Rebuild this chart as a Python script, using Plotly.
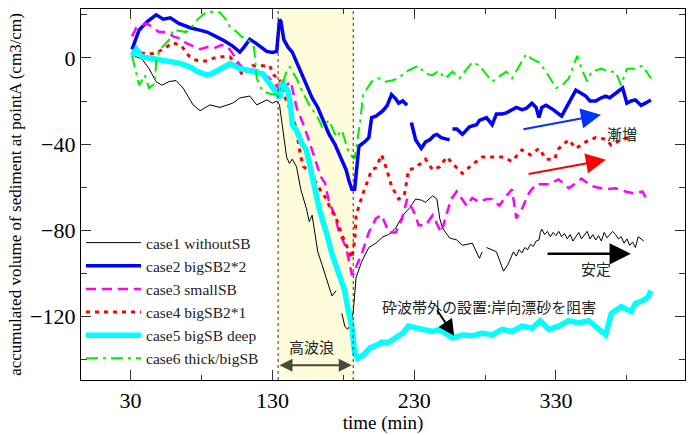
import plotly.graph_objects as go

# ---------------- data ----------------
t_case1 = [31,34,38,43,48,52,57,62,67,74,79,86,93,102,107,114,119,126,130,133,135,137,140,142,144,147,150,154,156,158,162,165,170,172,175,None,
           179,181,183,185,187,189,193,198,203,208,212,217,222,227,231,235,238,243,246,248,250,255,260,264,271,276,278,None,
           281,288,293,296,300,302,304,306,308,310,312,314,316,318,319,320,322,324,326,328,330,332,334,336,338,340,342,344,346,348,350,
           352,354,356,358,360,362,364,366,368,370,372,374,376,378,380,382,384,386,388,390,392]
v_case1 = [1.8,0.5,-0.5,-5,-11,-12.7,-11,-10.5,-14,-21.8,-24.5,-21.8,-23,-21,-18.6,-17.7,-21.8,-19.5,-21,-20,-21.8,-31,-46,-49,-47,-50.5,-61,-70,-76,-73,-90,-96,-106,-110.5,-108,None,
           -118.6,-124.5,-126,-124,-118,-102,-94.5,-88,-86,-83,-82,-79,-73,-69.5,-65.5,-66,-67,-64,-65.5,-74.5,-79,-83.6,-84.5,-87,-86,-93,-90,None,
           -88,-90,-99,-96,-90,-92,-89,-90.5,-88,-89,-86.5,-87.5,-85,-84.5,-81,-79.5,-82,-80.5,-83,-81,-82.5,-80.5,-83,-81.5,-84,-82,-85,-83,-81,-84,-82.5,
           -80.5,-84,-82,-84.5,-82.5,-85,-81,-83.5,-82,-80.5,-82,-84,-83,-86,-84,-87,-85.5,-88,-83,-84,-85]

t_case2 = [31,36,42,48,53,58,64,72,78,84,90,96,102,107,110,114,118,121,126,130,133,135,136,138,141,144,147,151,155,158,162,165,168,170,174,177,180,182,184,186,188,189,191,195,198,200,203,208,211,214,217,219,222,225,None,
           228,231,235,238,241,244,246,249,253,255,None,257,260,264,269,274,276,281,285,288,292,295,299,302,306,309,313,316,318,320,323,328,334,338,341,344,348,351,354,358,362,365,368,371,374,377,380,383,386,390,393,397]
v_case2 = [4,13,17,20,18,18.6,16,14,13,12,10,8,5.5,2.7,5,8.6,7,5.5,3,2.5,3,17.7,17,8.6,5,2.7,-2,-8,-14,-18.6,-23,-27.7,-32,-35.5,-40,-44.5,-48,-52,-57,-61,-61,-55,-41,-39,-37,-27.7,-27,-24.5,-22,-17,-19,-21,-20,-22,None,
           -30,-38,-42,-39,-38,-36,-35.5,-37,-37.7,-38,None,-33,-33,-35.5,-32,-31,-29,-27.7,-31,-26,-26,-25.5,-24,-23,-24,-23.5,-21,-23,-27.7,-23,-22,-24,-27,-22,-18,-15,-16.5,-17.7,-20,-20,-18.5,-17.7,-18.5,-17,-16,-14,-21,-20,-19.5,-22,-21,-19.5]

t_case3 = [31,34,38,41,45,50,55,60,65,69,74,79,84,89,94,98,102,105,108,112,116,121,125,128,133,135,137,140,143,147,150,155,158,161,164,167,170,174,177,182,184,186,188,189,193,198,203,207,210,212,217,221,225,231,233,238,243,249,252,256,260,264,267,271,276,281,285,290,295,299,302,306,311,316,325,332,339,348,355,365,372,379,386,391,395]
v_case3 = [10,14,15,16,14.5,12,12,10,9,7,5.5,4,5,4.5,6,5.5,2,-1.4,-4,-6.4,-5.5,-6,-8,-9.5,-13,-15,-17,-12.7,-11,-23,-27.7,-36.8,-42.7,-49,-55,-58,-67,-73,-81,-88,-94.5,-100.5,-100,-97,-91,-81,-74.5,-73,-77.7,-81,-81,-75.5,-65.5,-73,-77.7,-77.7,-73,-81,-74.5,-65.5,-62,-65.5,-68.6,-65,-67,-65.5,-65.5,-68.6,-64,-61,-74.5,-70,-62.7,-58.6,-58.6,-56.4,-60.5,-56,-59.5,-61,-60.5,-62,-63,-62,-67]

t_case4 = [31,36,41,46,50,55,60,66,71,76,79,84,89,93,100,105,109,116,123,128,131,134,135,137,142,146,148,150,152,156,162,168,171,175,179,182,186,188,189,194,200,203,207,210,214,219,223,226,231,238,243,248,253,257,264,271,278,285,292,299,306,312,318,323,329,332,339,344,351,358,365,369,376,383]
v_case4 = [3,2.7,1.8,2,3,5,7,5.5,1,-1,-1.4,-1.4,0,0.5,0.5,-3.6,-8,-3.6,-3.6,-3.6,-8,-9.5,-9.5,-15.5,-23,-31,-38,-46,-50.5,-52.7,-59.5,-65.5,-70,-74.5,-82,-87,-93,-85,-73,-62.7,-52,-51,-45,-50.5,-59.5,-65.5,-64,-52,-51,-47,-52,-50.5,-46,-49,-53.6,-49.5,-46,-46,-46,-48,-42.7,-45,-42,-47,-47,-42,-38,-42,-39,-37,-37.7,-40.5,-38,-37]

t_case5 = [31,34,38,43,48,54,60,65,69,73,76,80,84,88,91,96,100,103,107,111,116,120,123,128,133,135,137,141,143,144,147,151,154,156,158,160,163,168,172,177,181,183,186,188,190,194,199,203,207,212,217,222,226,231,236,243,248,257,264,271,278,285,292,299,306,313,319,325,332,339,346,353,358,365,369,376,383,386,391,395,397]
v_case5 = [1,4,0.5,0,-0.5,-1,-1.4,-2.5,-3.6,-4.5,-6,-7,-8,-7,-6,-4,-2.7,-3.5,-5,-5.5,-6.4,-6.5,-7.3,-11.8,-17,-18.6,-11,-15.5,-23,-31,-33.6,-40,-42.7,-49,-55,-61,-70,-81,-91,-100.5,-108,-115.5,-124.5,-136.8,-139.5,-138,-134.5,-133.5,-132,-132,-130,-127.7,-124.5,-125.5,-126,-127,-126,-130,-128.6,-129,-127.7,-128.6,-126,-127,-124.5,-125.5,-122,-126,-124.5,-122,-123,-122,-124.5,-128.6,-118.6,-115.5,-117.7,-114,-112.7,-111,-108]

t_case6 = [31,34,36,40,43,47,48,50,53,58,60,65,69,74,77,81,84,90,93,97,100,105,108,112,115,117,119,123,128,130,133,135,140,142,147,151,156,162,165,170,175,179,182,184,188,190,192,194,196,200,205,210,214,219,224,229,233,238,243,247,252,257,262,266,271,276,281,285,290,295,299,304,309,313,318,323,330,334,339,345,348,352,355,362,367,372,376,380,386,391,397]
v_case6 = [1,-8,-12.7,-8,-14,-12,-2,3,5.5,9,13,12.5,12,15,17.7,20,21.4,21.5,21,18,14.5,12,10,8.6,7,5,-9.5,-15.5,-16.5,-17,-17,-15.5,-6.4,-4,-9.5,-15.5,-21.8,-27.7,-32,-29,-36.8,-33.6,-40,-44.5,-46.8,-38,-29,-17,-15,-11,-9.5,-11,-10.5,-9.5,-6.4,-5,-3.6,-7.3,-8,-6,-9.5,-6.4,-9.5,-6,-2,-3.6,-8,-11,-8.6,-6.4,-9.5,-3.6,1.8,-0.5,-2,-6.4,-14,-13,-9.5,1,-5,-11,-6.4,-5,-6.4,-6.4,-12.7,-5,-5,-3.6,-9.5]

names = ["case1 withoutSB", "case2 bigSB2*2", "case3 smallSB", "case4 bigSB2*1", "case5 bigSB deep", "case6 thick/bigSB"]
x_ticks = [30, 130, 230, 330]
y_ticks = [0, -40, -80, -120]
storm_window = [134, 187]

SERIF = "Liberation Serif"
CJK = "Noto Sans CJK JP"

fig = go.Figure()
styles = [
    dict(color="#000000", width=1, dash="solid"),
    dict(color="#0000ff", width=3.5, dash="solid"),
    dict(color="#ff00ff", width=2.5, dash="10px,6px"),
    dict(color="#ff0000", width=3, dash="4px,5px"),
    dict(color="#00ffff", width=5.5, dash="solid"),
    dict(color="#00ee00", width=2, dash="12px,5px,3px,5px"),
]
series = [(t_case1, v_case1), (t_case2, v_case2), (t_case3, v_case3),
          (t_case4, v_case4), (t_case5, v_case5), (t_case6, v_case6)]
for (tx, vy), nm, st in zip(series, names, styles):
    fig.add_trace(go.Scatter(x=tx, y=vy, mode="lines", name=nm, line=st,
                             connectgaps=False))

# storm (high wave) window
fig.add_shape(type="rect", xref="x", yref="paper", x0=storm_window[0], x1=storm_window[1],
              y0=0, y1=1, fillcolor="#fffcdc", line=dict(width=0), layer="below")
for xv in storm_window:
    fig.add_shape(type="line", xref="x", yref="paper", x0=xv, x1=xv, y0=0, y1=1,
                  line=dict(color="#333333", width=1, dash="dot"), layer="above")

anns = []
# double arrow for 高波浪
anns.append(dict(x=storm_window[0] + 1, y=-142.7, ax=storm_window[1], ay=-142.7, xref="x", yref="y",
                 axref="x", ayref="y", showarrow=True, arrowhead=2, startarrowhead=2,
                 arrowside="end+start", arrowsize=1.3, arrowwidth=2, arrowcolor="#4a4a3a", text=""))
anns.append(dict(x=157.5, y=-134, xref="x", yref="y", text="高波浪", showarrow=False,
                 font=dict(family=CJK, size=15, color="#222222")))
# blue arrow
anns.append(dict(x=361.7, y=-26.4, ax=306, ay=-33.2, xref="x", yref="y", axref="x", ayref="y",
                 showarrow=True, arrowhead=2, arrowsize=2, arrowwidth=2, arrowcolor="#0033ff", text=""))
# red arrow
anns.append(dict(x=365.2, y=-47.3, ax=309.6, ay=-54, xref="x", yref="y", axref="x", ayref="y",
                 showarrow=True, arrowhead=2, arrowsize=2, arrowwidth=2, arrowcolor="#ff0000", text=""))
anns.append(dict(x=376.5, y=-35, xref="x", yref="y", text="漸増", showarrow=False,
                 font=dict(family=CJK, size=15, color="#222222")))
# black arrow
anns.append(dict(x=382.8, y=-90.9, ax=323, ay=-90.9, xref="x", yref="y", axref="x", ayref="y",
                 showarrow=True, arrowhead=2, arrowsize=1.7, arrowwidth=2.5, arrowcolor="#000000", text=""))
anns.append(dict(x=358, y=-97.7, xref="x", yref="y", text="安定", showarrow=False,
                 font=dict(family=CJK, size=15, color="#222222")))
# note
anns.append(dict(x=282.8, y=-115.5, xref="x", yref="y", text="砕波帯外の設置:岸向漂砂を阻害", showarrow=False,
                 font=dict(family=CJK, size=15, color="#222222")))
anns.append(dict(x=258.2, y=-129, ax=245.5, ay=-116.4, xref="x", yref="y", axref="x", ayref="y",
                 showarrow=True, arrowhead=2, arrowsize=1.6, arrowwidth=2, arrowcolor="#000000", text=""))

fig.update_layout(
    width=693, height=435,
    margin=dict(l=81, r=7, t=9, b=47),
    paper_bgcolor="white", plot_bgcolor="white",
    font=dict(family=SERIF, color="#000000"),
    annotations=anns,
    showlegend=True,
    legend=dict(x=0.0, y=0.415, xanchor="left", yanchor="top", bgcolor="rgba(0,0,0,0)",
                font=dict(family=SERIF, size=15.5, color="#222222"), tracegroupgap=0,
                itemwidth=55),
)
fig.update_xaxes(range=[-5, 421], tickvals=x_ticks, ticks="inside", ticklen=10, tickwidth=1,
                 tickcolor="#333333", showline=True, linecolor="#000000", linewidth=1.2, mirror="allticks",
                 showgrid=False, zeroline=False, tickfont=dict(family=SERIF, size=22),
                 minor=dict(tickvals=[80, 180, 280, 380], ticks="inside", ticklen=5, tickcolor="#333333"),
                 title=dict(text="time (min)", font=dict(family=SERIF, size=19), standoff=2))
fig.update_yaxes(range=[-149.5, 22.7], tickvals=y_ticks, ticks="inside", ticklen=10, tickwidth=1,
                 tickcolor="#333333", showline=True, linecolor="#000000", linewidth=1.2, mirror="allticks",
                 showgrid=False, zeroline=False, tickfont=dict(family=SERIF, size=22),
                 minor=dict(tickvals=[20, -20, -60, -100, -140], ticks="inside", ticklen=6, tickcolor="#333333"),
                 title=dict(text="accumulated volume of sediment at pointA (cm3/cm)",
                            font=dict(family=SERIF, size=17), standoff=4))

fig.write_html("out.html")
